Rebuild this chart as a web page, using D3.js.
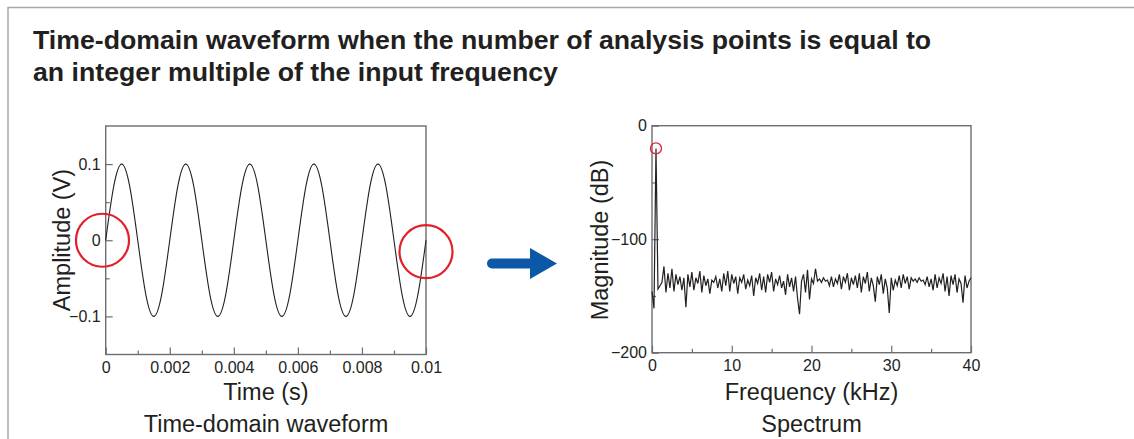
<!DOCTYPE html>
<html>
<head>
<meta charset="utf-8">
<script src="https://cdn.jsdelivr.net/npm/d3@7"></script>
<style>
  body { margin: 0; background: #fff; }
  svg { display: block; }
  text { font-family: "Liberation Sans", Arial, sans-serif; fill: #231f20; }
</style>
</head>
<body>
<svg id="chart" width="1134" height="439"></svg>
<script>
// time-domain waveform, sampled every 1/8 period (0.25 ms)
var timeStep = 0.00025;
var ampValues = [
  0, 0.0707, 0.1, 0.0707, 0, -0.0707, -0.1, -0.0707,
  0, 0.0707, 0.1, 0.0707, 0, -0.0707, -0.1, -0.0707,
  0, 0.0707, 0.1, 0.0707, 0, -0.0707, -0.1, -0.0707,
  0, 0.0707, 0.1, 0.0707, 0, -0.0707, -0.1, -0.0707,
  0, 0.0707, 0.1, 0.0707, 0, -0.0707, -0.1, -0.0707,
  0
];
var timeTicks = [0, 0.002, 0.004, 0.006, 0.008, 0.01];
var timeMinor = [0.001, 0.003, 0.005, 0.007, 0.009];
var ampTicks = [-0.1, 0, 0.1];
var ampMinor = [-0.05, 0.05];
var markTime = [-0.0001, 0.01];
var markAmp = [0, -0.015];

// spectrum, one value every 0.25 kHz
var freqStep = 0.25;
var dbValues = [
  -146, -161, -20, -144, -141, -138, -124, -147, -130, -143,
  -126, -146, -131, -140, -133, -145, -134, -160, -131, -142,
  -129, -145, -134, -139, -128, -147, -132, -141, -135, -148,
  -136, -138, -133, -143, -135, -146, -130, -141, -128, -146,
  -131, -139, -133, -148, -134, -138, -131, -144, -136, -141,
  -132, -150, -134, -139, -130, -145, -133, -147, -131, -138,
  -129, -146, -135, -140, -132, -143, -137, -149, -131, -142,
  -134, -146, -133, -152, -166, -137, -131, -147, -127, -153,
  -135, -139, -126, -137, -135, -138, -134, -137, -136, -141,
  -133, -142, -135, -139, -131, -144, -133, -138, -130, -145,
  -134, -140, -132, -143, -130, -147, -133, -139, -129, -146,
  -134, -141, -155, -133, -140, -131, -148, -135, -143, -165,
  -134, -145, -136, -141, -132, -143, -131, -139, -133, -144,
  -134, -137, -135, -138, -134, -137, -136, -140, -133, -142,
  -135, -145, -131, -143, -134, -139, -130, -146, -133, -150,
  -132, -140, -131, -147, -135, -139, -156, -132, -143, -137,
  -134
];
var freqTicks = [0, 10, 20, 30, 40];
var freqMinor = [5, 15, 25, 35];
var dbTicks = [-200, -100, 0];
var dbMinor = [-150, -50];
var peakFreq = [0.5];
var peakDb = [-20];

var svg = d3.select('#chart');
var ink = '#231f20';
var axisGrey = '#6d6e71';

// page frame
svg.append('path')
  .attr('d', 'M 8,439 L 8,7.5 L 1134,7.5')
  .attr('fill', 'none')
  .attr('stroke', '#a7a9ac')
  .attr('stroke-width', 1.5);

// title
var title = svg.append('text')
  .style('font-size', '26.7px')
  .style('font-weight', 'bold');
title.append('tspan').attr('x', 33).attr('y', 49)
  .text('Time-domain waveform when the number of analysis points is equal to');
title.append('tspan').attr('x', 33).attr('y', 81)
  .text('an integer multiple of the input frequency');

function styleAxis(sel) {
  sel.select('.domain').remove();
  sel.selectAll('.tick line').attr('stroke', axisGrey).attr('stroke-width', 1.2);
  sel.selectAll('.tick text')
    .style('font-family', '"Liberation Sans", Arial, sans-serif')
    .style('font-size', '16px')
    .attr('fill', ink);
}

function drawFrame(x, y, xt, xm, yt, ym) {
  var g = svg.append('g');
  var x0 = x.range()[0], x1 = x.range()[1];
  var y0 = y.range()[0], y1 = y.range()[1];
  var fmt = d3.format('~g');

  // bottom axis, ticks pointing in
  g.append('g')
    .attr('transform', 'translate(0,' + y0 + ')')
    .call(d3.axisBottom(x).tickValues(xt).tickSize(-7).tickPadding(7).tickFormat(fmt))
    .call(styleAxis);
  g.append('g')
    .attr('transform', 'translate(0,' + y0 + ')')
    .call(d3.axisBottom(x).tickValues(xm).tickSize(-4).tickFormat(''))
    .call(styleAxis);

  // left axis
  g.append('g')
    .attr('transform', 'translate(' + x0 + ',0)')
    .call(d3.axisLeft(y).tickValues(yt).tickSize(-7).tickPadding(5).tickFormat(fmt))
    .call(styleAxis);
  g.append('g')
    .attr('transform', 'translate(' + x0 + ',0)')
    .call(d3.axisLeft(y).tickValues(ym).tickSize(-4).tickFormat(''))
    .call(styleAxis);

  g.append('rect')
    .attr('x', x0)
    .attr('y', y1)
    .attr('width', x1 - x0)
    .attr('height', y0 - y1)
    .attr('fill', 'none')
    .attr('stroke', axisGrey)
    .attr('stroke-width', 1.4);
  return g;
}

// ---- left: time-domain waveform
var xT = d3.scaleLinear().domain([0, 0.01]).range([105.7, 426]);
var yA = d3.scaleLinear().domain([-0.15, 0.15]).range([354.5, 126]);
drawFrame(xT, yA, timeTicks, timeMinor, ampTicks, ampMinor);

var wave = d3.line()
  .x(function(d, i) { return xT(i * timeStep); })
  .y(function(d) { return yA(d); })
  .curve(d3.curveNatural);

svg.append('path')
  .datum(ampValues)
  .attr('d', wave)
  .attr('fill', 'none')
  .attr('stroke', ink)
  .attr('stroke-width', 1.1);

svg.selectAll('circle.mark')
  .data(markTime)
  .enter()
  .append('circle')
  .attr('class', 'mark')
  .attr('cx', function(d) { return xT(d); })
  .attr('cy', function(d, i) { return yA(markAmp[i]); })
  .attr('r', 26.5)
  .attr('fill', 'none')
  .attr('stroke', '#e3202a')
  .attr('stroke-width', 2.2);

svg.append('text')
  .attr('x', 266).attr('y', 400)
  .attr('text-anchor', 'middle')
  .style('font-size', '23.5px')
  .text('Time (s)');
svg.append('text')
  .attr('x', 266).attr('y', 432)
  .attr('text-anchor', 'middle')
  .style('font-size', '23.5px')
  .text('Time-domain waveform');
svg.append('text')
  .attr('transform', 'translate(62,240) rotate(-90)')
  .attr('text-anchor', 'middle')
  .attr('dy', '0.35em')
  .style('font-size', '23.5px')
  .text('Amplitude (V)');

// ---- arrow
svg.append('line')
  .attr('x1', 492).attr('y1', 263.5)
  .attr('x2', 534).attr('y2', 263.5)
  .attr('stroke', '#0a58a6')
  .attr('stroke-width', 10)
  .attr('stroke-linecap', 'round');
svg.append('path')
  .attr('d', 'M 530,248 L 557,263.5 L 530,279 Z')
  .attr('fill', '#0a58a6');

// ---- right: spectrum
var xF = d3.scaleLinear().domain([0, 40]).range([652, 971]);
var yD = d3.scaleLinear().domain([-200, 0]).range([352.7, 125.7]);
drawFrame(xF, yD, freqTicks, freqMinor, dbTicks, dbMinor);

var spec = d3.line()
  .x(function(d, i) { return xF(i * freqStep); })
  .y(function(d) { return yD(d); });

svg.append('path')
  .datum(dbValues)
  .attr('d', spec)
  .attr('fill', 'none')
  .attr('stroke', ink)
  .attr('stroke-width', 1.2);

svg.selectAll('circle.peak')
  .data(peakFreq)
  .enter()
  .append('circle')
  .attr('class', 'peak')
  .attr('cx', function(d) { return xF(d); })
  .attr('cy', function(d, i) { return yD(peakDb[i]); })
  .attr('r', 5.5)
  .attr('fill', 'none')
  .attr('stroke', '#e3202a')
  .attr('stroke-width', 1.3);

svg.append('text')
  .attr('x', 811.5).attr('y', 400)
  .attr('text-anchor', 'middle')
  .style('font-size', '23.5px')
  .text('Frequency (kHz)');
svg.append('text')
  .attr('x', 811.5).attr('y', 432)
  .attr('text-anchor', 'middle')
  .style('font-size', '23.5px')
  .text('Spectrum');
svg.append('text')
  .attr('transform', 'translate(600,240) rotate(-90)')
  .attr('text-anchor', 'middle')
  .attr('dy', '0.35em')
  .style('font-size', '23.5px')
  .text('Magnitude (dB)');
</script>
</body>
</html>
